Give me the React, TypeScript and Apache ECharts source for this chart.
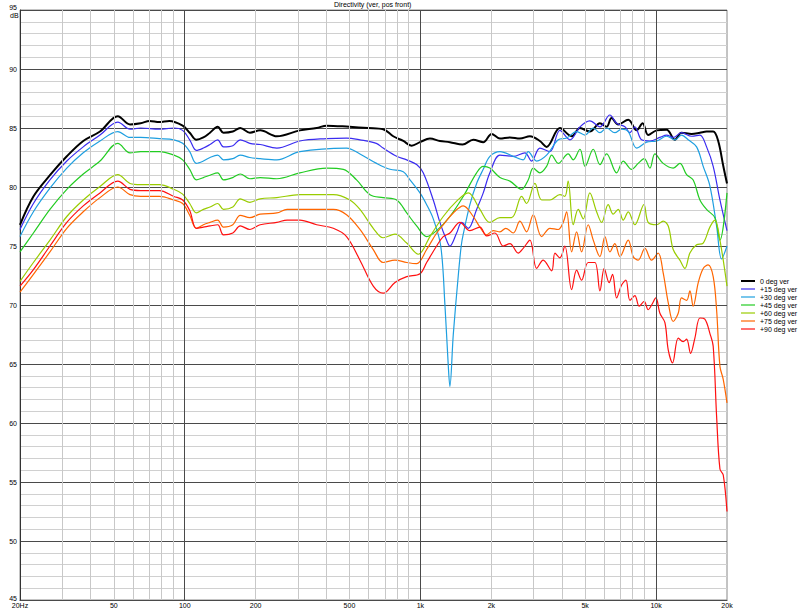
import React, { useEffect, useRef } from "react";
import * as echarts from "echarts";

const seriesNames = ["0 deg ver", "+15 deg ver", "+30 deg ver", "+45 deg ver", "+60 deg ver", "+75 deg ver", "+90 deg ver"];
const seriesColors = ["#000000", "#3a2cf0", "#1e9fe0", "#22cc22", "#99cc00", "#ff6600", "#ff1010"];

const xLabelFreqs = [20, 50, 100, 200, 500, 1000, 2000, 5000, 10000, 20000];
const xLabelTexts = ["20Hz", "50", "100", "200", "500", "1k", "2k", "5k", "10k", "20k"];
const majorFreqs = [100, 1000, 10000];
const minorFreqs = [30, 40, 50, 60, 70, 80, 90, 200, 300, 400, 500, 600, 700, 800, 900, 2000, 3000, 4000, 5000, 6000, 7000, 8000, 9000];

const deg0: [number, number][] = [[20,76.8],[22.8,79.2],[26.8,81.0],[31.6,82.6],[37.1,83.9],[43.7,84.7],[52,86.0],[58.6,85.3],[65,85.4],[71,85.6],[78,85.5],[86,85.6],[98,85.2],[105,84.6],[112,84.0],[120,84.2],[128,84.6],[138,85.1],[146,84.6],[160,84.7],[172,85.0],[189,84.6],[209,84.8],[246,84.3],[308,84.8],[363,85.0],[400,85.2],[500,85.1],[600,85.0],[695,84.9],[767,84.3],[846,83.9],[918,83.5],[996,83.8],[1098,84.1],[1210,83.9],[1334,83.8],[1510,83.6],[1676,84.0],[1848,83.8],[2005,84.5],[2176,84.1],[2398,84.2],[2644,84.1],[2916,84.3],[3214,83.9],[3432,83.4],[3908,85.0],[4382,84.3],[4754,85.0],[5236,84.7],[5778,85.4],[6166,85.1],[6472,85.85],[6910,85.3],[7620,85.7],[8270,84.8],[8770,85.4],[9262,84.4],[10058,84.8],[11086,84.85],[12024,84.0],[12824,84.6],[14158,84.5],[15348,84.6],[16384,84.7],[17476,84.7],[18352,83.9],[19276,81.8],[20000,80.3]];

const deg15: [number, number][] = [[20,76.4],[22.8,78.6],[26.8,80.6],[31.6,82.2],[37.1,83.4],[43.7,84.4],[52,85.5],[58.6,84.9],[65,85.0],[78,84.9],[90,85.0],[98,84.8],[105,84.0],[112,83.1],[120,83.3],[128,83.6],[138,84.0],[146,83.4],[160,83.5],[172,84.0],[189,83.7],[209,83.6],[246,83.3],[308,83.9],[400,84.1],[486,84.15],[554,84.0],[650,83.7],[695,83.3],[793,82.6],[875,82.3],[964,81.9],[1028,81.2],[1134,78.9],[1210,77.0],[1291,75.5],[1334,75.0],[1425,76.1],[1497,77.0],[1596,76.5],[1732,78.1],[1848,79.5],[1972,81.2],[2176,82.7],[2478,82.6],[2776,82.9],[2966,82.2],[3214,83.3],[3546,83.0],[3908,84.8],[4310,84.0],[4754,85.1],[5236,85.6],[5778,85.1],[6368,86.1],[6802,85.4],[7378,85.1],[7746,84.6],[8128,85.1],[8684,84.0],[9418,83.9],[10384,84.2],[11086,84.4],[11824,84.2],[12824,84.6],[14158,84.3],[15348,84.4],[16384,83.4],[17476,81.75],[18666,78.9],[20000,76.3]];

const deg30: [number, number][] = [[20,75.8],[22.8,77.9],[26.8,79.9],[31.6,81.6],[37.1,82.9],[43.7,83.9],[52,84.7],[58.6,84.2],[65,84.2],[78,84.1],[90,84.0],[98,83.7],[105,83.0],[112,82.0],[120,82.2],[128,82.5],[138,82.7],[146,82.3],[160,82.4],[172,82.7],[189,82.5],[209,82.4],[246,82.3],[308,83.0],[486,83.3],[554,82.8],[652,82.0],[743,81.5],[846,81.3],[903,80.6],[996,79.5],[1063,78.5],[1134,77.3],[1220,75.0],[1271,70.0],[1312,65.0],[1334,63.1],[1379,67.5],[1448,72.5],[1490,75.0],[1520,76.0],[1622,78.5],[1732,80.3],[1848,81.5],[1972,82.6],[2176,83.0],[2478,82.6],[2730,82.3],[2867,83.0],[3112,82.2],[3432,82.7],[3846,84.0],[4174,84.15],[4602,84.7],[4990,84.4],[5414,85.0],[5778,84.6],[6166,85.0],[6684,84.6],[7142,84.9],[7620,84.7],[8270,83.3],[9120,83.8],[10058,83.9],[11086,84.3],[12024,84.0],[12824,84.4],[13690,84.0],[14860,83.4],[15850,81.75],[16918,80.1],[18066,76.7],[18968,73.9],[20000,75.0]];

const deg45: [number, number][] = [[20,74.5],[22.8,76.1],[26.8,78.1],[31.6,79.8],[37.1,81.1],[43.7,82.2],[52,83.7],[58.6,82.9],[65,83.0],[78,83.0],[90,82.7],[98,82.3],[105,81.5],[112,80.6],[120,80.8],[128,81.0],[138,81.2],[146,80.6],[160,80.8],[172,81.1],[189,80.7],[209,80.8],[246,80.7],[308,81.2],[400,81.6],[471,81.5],[536,80.6],[611,79.35],[695,79.1],[793,78.9],[875,77.8],[964,76.7],[1063,75.8],[1172,76.3],[1334,77.5],[1520,79.2],[1732,81.2],[1848,81.75],[1972,81.6],[2176,80.8],[2398,80.5],[2689,79.8],[2867,80.6],[3013,81.6],[3214,81.2],[3432,81.75],[3606,82.7],[3846,82.0],[4236,82.8],[4452,82.3],[4754,83.2],[5000,81.75],[5414,83.2],[5778,81.9],[6166,82.8],[6802,81.2],[7256,82.2],[7872,81.5],[8396,82.0],[8906,82.4],[9418,81.6],[9886,82.8],[10716,82.0],[11824,81.6],[12620,82.0],[13478,81.05],[14374,80.6],[15348,78.9],[16384,78.1],[17768,77.4],[18666,75.5],[20000,79.5]];

const deg60: [number, number][] = [[20,72.0],[22.8,73.6],[26.8,75.5],[31.6,77.5],[37.1,78.9],[43.7,80.05],[52,81.05],[58.6,80.3],[65,80.2],[78,80.2],[90,79.8],[98,79.4],[105,78.6],[112,77.8],[120,78.1],[128,78.3],[138,78.6],[146,78.1],[160,78.3],[172,79.0],[189,78.7],[209,79.0],[246,79.1],[308,79.35],[427,79.35],[502,78.9],[554,78.1],[631,76.5],[695,75.7],[780,76.0],[875,75.25],[980,74.3],[1098,75.8],[1250,77.5],[1425,78.8],[1596,79.5],[1789,78.1],[1972,77.0],[2176,77.4],[2438,77.4],[2689,79.2],[2822,78.6],[3062,80.3],[3270,78.9],[3546,78.9],[3908,79.35],[4102,79.2],[4236,80.5],[4452,76.8],[4674,78.1],[4910,77.3],[5236,79.5],[5594,77.9],[5876,77.0],[6266,78.5],[6578,77.7],[6910,78.1],[7256,77.2],[7620,77.9],[8128,76.8],[8880,78.5],[9262,77.0],[10058,76.8],[10716,77.1],[11262,76.7],[11824,74.7],[12620,73.8],[13256,73.1],[13920,74.4],[14860,75.1],[15850,75.25],[16918,76.6],[17768,77.2],[18666,75.5],[20000,71.6]];

const deg75: [number, number][] = [[20,71.1],[22.8,72.6],[26.8,74.5],[31.6,76.5],[37.1,77.9],[43.7,79.1],[52,80.0],[58.6,79.35],[65,79.2],[78,79.2],[90,78.9],[98,78.6],[105,77.6],[112,76.5],[120,76.8],[128,77.0],[138,77.2],[146,76.6],[160,76.8],[172,77.6],[189,77.4],[209,77.7],[246,77.8],[272,78.1],[427,78.1],[486,77.65],[554,76.4],[631,74.7],[695,73.6],[780,73.8],[875,73.6],[964,73.5],[1063,74.7],[1172,76.1],[1250,76.8],[1379,77.8],[1520,78.4],[1676,77.5],[1789,76.6],[1910,75.95],[2040,76.3],[2176,76.2],[2300,76.5],[2478,76.1],[2644,77.1],[2822,76.2],[3013,77.65],[3270,75.8],[3546,76.5],[3846,76.4],[4036,77.0],[4174,77.9],[4382,74.5],[4602,76.2],[4830,74.5],[5152,76.8],[5414,75.5],[5778,74.1],[6068,75.8],[6368,74.5],[6684,75.2],[7026,74.1],[7620,75.5],[7998,74.1],[8396,73.8],[8968,74.8],[9572,73.8],[10210,74.4],[10716,72.75],[11262,70.2],[11824,68.6],[12418,69.3],[12824,70.6],[13478,70.4],[13920,71.2],[14374,69.9],[15102,71.9],[15850,73.1],[16636,73.4],[17476,72.4],[18066,69.6],[18666,64.8],[19276,63.7],[20000,61.7]];

const deg90: [number, number][] = [[20,71.6],[22.8,73.0],[26.8,75.0],[31.6,77.0],[37.1,78.4],[43.7,79.5],[52,80.5],[58.6,79.8],[65,79.7],[78,79.7],[90,79.2],[98,78.9],[105,78.0],[112,76.5],[120,76.6],[128,76.7],[138,76.8],[146,75.95],[160,76.1],[172,76.7],[189,76.4],[209,76.8],[246,77.0],[272,77.2],[308,77.2],[363,76.8],[427,76.5],[486,75.8],[554,73.8],[631,71.6],[695,71.0],[780,71.9],[875,72.4],[996,72.65],[1063,73.6],[1172,75.0],[1250,75.8],[1334,76.1],[1472,77.0],[1622,76.3],[1789,76.6],[1910,75.85],[2071,76.1],[2246,75.0],[2398,75.2],[2601,74.4],[2730,74.8],[2916,75.5],[3112,73.1],[3320,73.8],[3606,72.9],[3723,74.4],[3908,74.0],[4102,75.0],[4382,71.3],[4602,72.95],[4830,72.1],[5152,73.6],[5502,73.6],[5778,71.2],[6026,73.1],[6324,71.9],[6538,72.6],[6802,70.6],[7142,71.7],[7448,72.1],[7746,70.4],[8128,70.8],[8482,69.9],[8906,70.3],[9262,69.6],[9572,70.0],[9982,70.6],[10384,69.3],[10904,68.5],[11262,66.2],[11752,65.1],[12418,67.2],[13032,66.9],[13478,67.1],[14016,65.9],[14614,67.2],[15348,68.9],[16108,68.8],[16918,67.6],[17476,66.5],[18066,60.6],[18666,56.1],[19276,55.6],[20000,52.5]];

const allSeries = [deg0, deg15, deg30, deg45, deg60, deg75, deg90];
const FONT = "'Liberation Sans', Arial, sans-serif";

export default function App() {
  const ref = useRef<HTMLDivElement>(null);
  useEffect(() => {
    if (!ref.current) return;
    const chart = echarts.init(ref.current, null, { renderer: "svg" });
    const lg = (f: number) => Math.log10(f);
    const labelFor = (v: number) => {
      const f = Math.round(Math.pow(10, v));
      const i = xLabelFreqs.findIndex((x) => Math.abs(x - f) / x < 0.01);
      return i >= 0 ? xLabelTexts[i] : "";
    };
    const gridLines = [
      ...minorFreqs.map((f) => ({ xAxis: lg(f), lineStyle: { color: "#c8c8c8", width: 1, type: "solid" } })),
      ...majorFreqs.map((f) => ({ xAxis: lg(f), lineStyle: { color: "#4a4a4a", width: 1, type: "solid" } })),
    ];
    const option: any = {
      animation: false,
      backgroundColor: "#ffffff",
      title: {
        text: "Directivity (ver, pos front)",
        left: 334,
        top: 1,
        padding: 0,
        textStyle: { fontFamily: FONT, fontSize: 7, fontWeight: "normal", color: "#000" },
      },
      legend: {
        orient: "vertical",
        left: 741,
        top: 277,
        padding: 0,
        itemWidth: 14,
        itemHeight: 8,
        itemGap: 0,
        data: seriesNames.map((n, i) => ({
          name: n,
          icon: i === 0 ? "path://M0 0H14V2H0Z" : "path://M0 0H14V1.2H0Z",
        })),
        textStyle: { fontFamily: FONT, fontSize: 7, color: "#000", lineHeight: 8 },
      },
      grid: { left: 20, top: 10, right: 73, bottom: 11, show: true, borderColor: "#888", borderWidth: 1 },
      xAxis: {
        type: "value",
        min: lg(20),
        max: lg(20000),
        axisLine: { show: true, lineStyle: { color: "#333", width: 1 } },
        axisTick: { show: false },
        splitLine: { show: false },
        axisLabel: {
          customValues: xLabelFreqs.map(lg),
          formatter: labelFor,
          fontFamily: FONT,
          fontSize: 7,
          color: "#000",
          margin: 2,
        },
      },
      yAxis: [
        {
          type: "value",
          min: 45,
          max: 95,
          interval: 5,
          z: 2,
          axisLine: { show: true, lineStyle: { color: "#333", width: 1 } },
          axisTick: { show: false },
          splitLine: { show: true, lineStyle: { color: "#4a4a4a", width: 1 } },
          axisLabel: {
            fontFamily: FONT,
            fontSize: 7,
            color: "#000",
            margin: 3,
            formatter: (v: number) => (v === 95 ? "{top|95}" : v === 45 ? "{bot|45}" : String(v)),
            rich: {
              top: { fontFamily: FONT, fontSize: 7, color: "#000", padding: [0, 0, 6, 0] },
              bot: { fontFamily: FONT, fontSize: 7, color: "#000", padding: [0, 0, 4, 0] },
            },
          },
        },
        {
          type: "value",
          min: 45,
          max: 95,
          interval: 1,
          z: 1,
          position: "left",
          axisLine: { show: false },
          axisTick: { show: false },
          axisLabel: { show: false },
          splitLine: { show: true, lineStyle: { color: "#d0d0d0", width: 1 } },
        },
      ],
      graphic: [
        {
          type: "text",
          left: 10,
          top: 12,
          style: { text: "dB", font: "7px " + FONT, fill: "#000" },
        },
      ],
      series: [
        {
          type: "line",
          name: "grid",
          data: [],
          z: 1,
          silent: true,
          markLine: {
            silent: true,
            symbol: ["none", "none"],
            label: { show: false },
            animation: false,
            data: gridLines,
          },
        },
        ...allSeries.map((arr, i) => ({
          type: "line",
          name: seriesNames[i],
          data: arr.map(([f, d]) => [lg(f), d]),
          showSymbol: false,
          symbol: "none",
          smooth: 0.35,
          z: 3,
          lineStyle: { color: seriesColors[i], width: i === 0 ? 2 : 1.2 },
          itemStyle: { color: seriesColors[i] },
        })),
      ],
    };
    chart.setOption(option);
    return () => chart.dispose();
  }, []);
  return <div ref={ref} style={{ position: "fixed", left: 0, top: 0, width: 800, height: 611 }} />;
}
